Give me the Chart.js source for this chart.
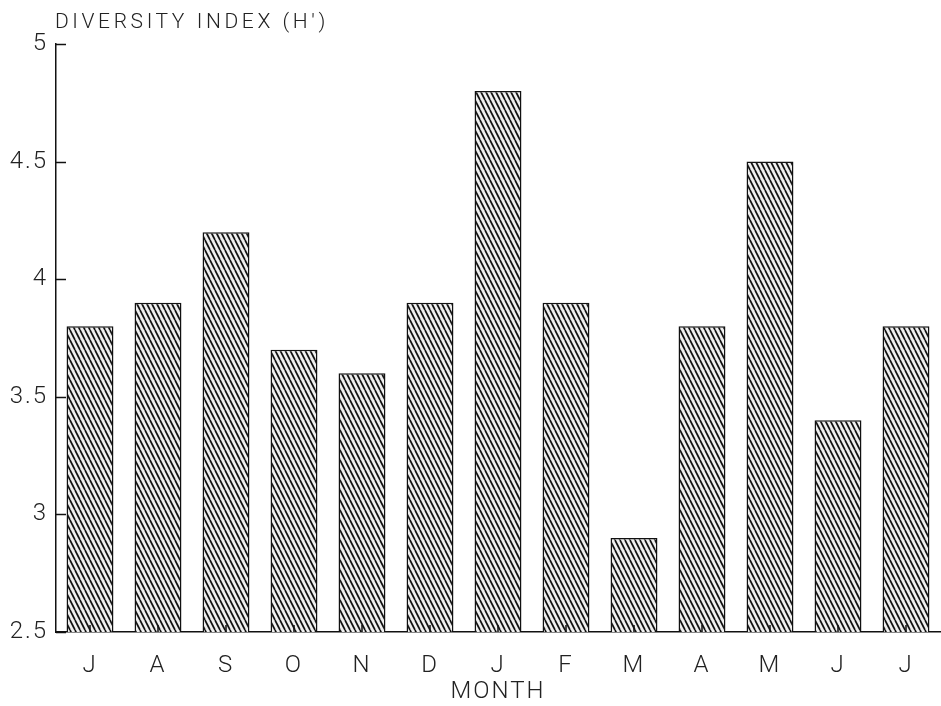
<!DOCTYPE html>
<html>
<head>
<meta charset="utf-8">
<script src="https://cdn.jsdelivr.net/npm/chart.js@4/dist/chart.umd.min.js"></script>
<style>
  html, body { margin: 0; padding: 0; background: #fff; }
  #wrap { width: 941px; height: 706px; }
</style>
</head>
<body>
<div id="wrap"><canvas id="chart" width="941" height="706"></canvas></div>
<script>
const months = ["J", "A", "S", "O", "N", "D", "J", "F", "M", "A", "M", "J", "J"];
const diversity = [3.8, 3.9, 4.2, 3.7, 3.6, 3.9, 4.8, 3.9, 2.9, 3.8, 4.5, 3.4, 3.8];
const yTicks = [2.5, 3, 3.5, 4, 4.5, 5];

// diagonal hatch like the old plotter fill
function hatch() {
  const c = document.createElement("canvas");
  const w = 5, h = 10;
  c.width = w; c.height = h;
  const g = c.getContext("2d");
  g.fillStyle = "#efefef";
  g.fillRect(0, 0, w, h);
  g.strokeStyle = "#111";
  g.lineWidth = 1.7;
  for (let k = -1; k <= 1; k++) {
    g.beginPath();
    g.moveTo(k * w, 0);
    g.lineTo(k * w + w, h);
    g.stroke();
  }
  return g.createPattern(c, "repeat");
}

const font = "Roboto, 'Liberation Sans', sans-serif";

const innerTicks = {
  id: "innerTicks",
  beforeDraw(chart) {
    chart.ctx.letterSpacing = "2px";
  },
  afterDatasetsDraw(chart) {
    const { ctx, scales: { x, y } } = chart;
    ctx.save();
    ctx.strokeStyle = "#111";
    ctx.lineWidth = 1.5;
    yTicks.forEach(v => {
      const py = Math.round(y.getPixelForValue(v)) + 0.5;
      ctx.beginPath();
      ctx.moveTo(x.left, py);
      ctx.lineTo(x.left + 10, py);
      ctx.stroke();
    });
    months.forEach((m, i) => {
      const px = x.getPixelForValue(i);
      ctx.beginPath();
      ctx.moveTo(px, y.bottom);
      ctx.lineTo(px, y.bottom - 7);
      ctx.stroke();
    });
    // heading above the value axis
    ctx.fillStyle = "#222";
    ctx.font = "300 21px " + font;
    ctx.letterSpacing = "3.6px";
    ctx.textBaseline = "middle";
    ctx.textAlign = "left";
    ctx.fillText("DIVERSITY INDEX (H')", 55, 23);
    ctx.restore();
  }
};

new Chart(document.getElementById("chart"), {
  type: "bar",
  data: {
    labels: months,
    datasets: [{
      data: diversity,
      backgroundColor: hatch(),
      borderColor: "#111",
      borderWidth: 1.5,
      borderSkipped: "bottom",
      categoryPercentage: 1,
      barPercentage: 0.69
    }]
  },
  options: {
    responsive: false,
    animation: false,
    layout: { padding: { top: 44, right: 1, left: 0, bottom: 0 } },
    plugins: { legend: { display: false }, tooltip: { enabled: false } },
    scales: {
      x: {
        offset: true,
        grid: { display: false, drawTicks: false },
        border: { display: true, color: "#111", width: 1.5 },
        ticks: { color: "#222", font: { family: font, size: 24, weight: 300 }, padding: 20, maxRotation: 0 },
        title: { display: true, text: "MONTH", color: "#222", font: { family: font, size: 24, weight: 300 }, padding: { top: 0, bottom: 0 } },
        afterFit(s) { s.height = 74; }
      },
      y: {
        min: 2.5,
        max: 5,
        afterBuildTicks(s) { s.ticks = yTicks.map(v => ({ value: v })); },
        grid: { display: false, drawTicks: false },
        border: { display: true, color: "#111", width: 1.5 },
        ticks: { color: "#222", font: { family: font, size: 24, weight: 300 }, padding: 8, callback: v => String(v) },
        afterFit(s) { s.width = 56; }
      }
    }
  },
  plugins: [innerTicks]
});
</script>
</body>
</html>
